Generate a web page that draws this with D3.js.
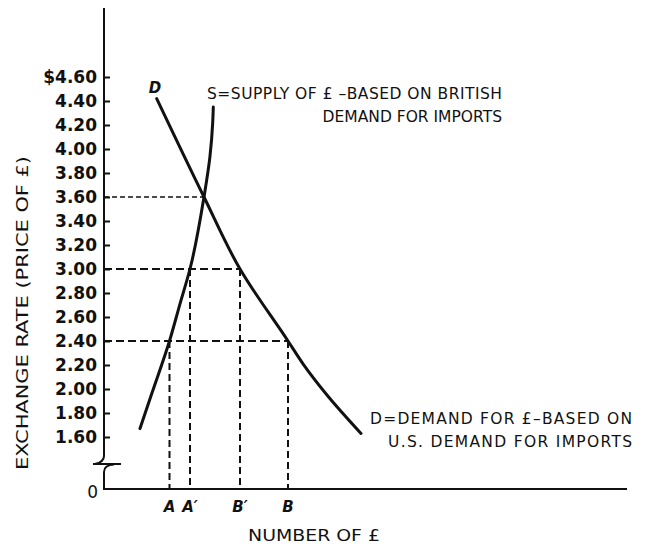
<!DOCTYPE html>
<html>
<head>
<meta charset="utf-8">
<script src="https://cdn.jsdelivr.net/npm/d3@7"></script>
<style>
  html, body { margin: 0; padding: 0; background: #fff; }
  svg { display: block; }
  text { fill: #111; }
</style>
</head>
<body>
<svg id="chart" width="660" height="544"></svg>
<script>
// Exchange rate ticks (dollars per pound), drawn on the upper part of a broken axis
const rateTicks = [4.60, 4.40, 4.20, 4.00, 3.80, 3.60, 3.40, 3.20, 3.00, 2.80, 2.60, 2.40, 2.20, 2.00, 1.80, 1.60];

// Supply of pounds: [number of £, price]
const supplyQty   = [36, 47.7, 65.5, 76, 86, 100, 106, 108.7, 109.3];
const supplyPrice = [1.67, 1.96, 2.40, 2.71, 3.00, 3.60, 3.94, 4.22, 4.35];

// Demand for pounds: [number of £, price]
const demandQty   = [52.7, 100, 136, 184, 199, 224, 257];
const demandPrice = [4.42, 3.60, 3.00, 2.40, 2.21, 1.94, 1.63];

// Marked quantities on the horizontal axis and the rates they belong to
const qtyLabels = ["A", "A\u2032", "B\u2032", "B"];
const qtyValues = [65.5, 86, 136, 184];
const qtyRates  = [2.40, 3.00, 3.00, 2.40];

// Horizontal guide lines: rate and how far they run
const guideRates = [3.60, 3.00, 2.40];
const guideQty   = [100, 136, 184];

const svg = d3.select("#chart");
const font = "'DejaVu Sans', Verdana, sans-serif";

const x = d3.scaleLinear().domain([0, 523]).range([104, 627]);
const y = d3.scaleLinear().domain([1.60, 4.60]).range([437, 77]);
const yZero = 489;

// Dashed guides
const guides = svg.append("g").attr("fill", "none").attr("stroke", "#111");
guideRates.forEach((r, i) => {
  guides.append("line")
    .attr("x1", x(0)).attr("x2", x(guideQty[i]))
    .attr("y1", y(r)).attr("y2", y(r))
    .attr("stroke-width", i === 0 ? 1.6 : 2)
    .attr("stroke-dasharray", i === 0 ? "5,3" : "8,4");
});
qtyValues.forEach((q, i) => {
  guides.append("line")
    .attr("x1", x(q)).attr("x2", x(q))
    .attr("y1", y(qtyRates[i])).attr("y2", yZero)
    .attr("stroke-width", 2)
    .attr("stroke-dasharray", "7,4");
});

// Curves: price on the vertical axis, so interpolate monotonically in y
const line = d3.line()
  .x(d => x(d[0]))
  .y(d => y(d[1]))
  .curve(d3.curveMonotoneY);

const byPixelY = (a, b) => y(a[1]) - y(b[1]);

svg.append("path")
  .datum(supplyQty.map((q, i) => [q, supplyPrice[i]]).sort(byPixelY))
  .attr("d", line)
  .attr("fill", "none").attr("stroke", "#111").attr("stroke-width", 3)
  .attr("stroke-linecap", "round");

svg.append("path")
  .datum(demandQty.map((q, i) => [q, demandPrice[i]]).sort(byPixelY))
  .attr("d", line)
  .attr("fill", "none").attr("stroke", "#111").attr("stroke-width", 3)
  .attr("stroke-linecap", "round");

// Vertical axis with its break
const axisG = svg.append("g")
  .attr("transform", `translate(${x(0)},0)`);
const yAxis = d3.axisRight(y)
  .tickValues(rateTicks)
  .tickSize(6)
  .tickFormat("");
axisG.call(yAxis);
axisG.select(".domain").remove();
axisG.selectAll(".tick line").attr("stroke", "#111").attr("stroke-width", 2);

const axisPaths = svg.append("g").attr("fill", "none").attr("stroke", "#111").attr("stroke-width", 2);
axisPaths.append("path").attr("d", `M${x(0)},8 L${x(0)},456 Q${x(0)},462 95,464`);
axisPaths.append("path").attr("d", `M93,464 L121,464`);
axisPaths.append("path").attr("d", `M114,464.5 Q${x(0)},465 ${x(0)},472 L${x(0)},${yZero} L627,${yZero}`);

// Tick labels
svg.append("g").selectAll("text")
  .data(rateTicks)
  .join("text")
  .attr("x", 97)
  .attr("y", d => y(d))
  .attr("dy", "0.36em")
  .attr("text-anchor", "end")
  .attr("font-family", font)
  .attr("font-weight", "bold")
  .attr("font-size", 17)
  .text((d, i) => (i === 0 ? "$" : "") + d.toFixed(2));

svg.append("text")
  .attr("x", 98).attr("y", yZero + 3).attr("dy", "0.36em")
  .attr("text-anchor", "end")
  .attr("font-family", font).attr("font-size", 17)
  .text("0");

// Quantity letters
svg.append("g").selectAll("text")
  .data(qtyValues)
  .join("text")
  .attr("x", d => x(d))
  .attr("y", 507)
  .attr("dy", "0.36em")
  .attr("text-anchor", "middle")
  .attr("font-family", font)
  .attr("font-weight", "bold")
  .attr("font-style", "italic")
  .attr("font-size", 15)
  .text((d, i) => qtyLabels[i]);

// Axis titles
svg.append("text")
  .attr("x", 314).attr("y", 535).attr("dy", "0.36em")
  .attr("text-anchor", "middle")
  .attr("font-family", font).attr("font-size", 16)
  .attr("textLength", 132).attr("lengthAdjust", "spacingAndGlyphs")
  .text("NUMBER OF \u00A3");

svg.append("text")
  .attr("transform", "translate(22,313) rotate(-90)")
  .attr("dy", "0.36em")
  .attr("text-anchor", "middle")
  .attr("font-family", font).attr("font-size", 16)
  .attr("textLength", 314).attr("lengthAdjust", "spacingAndGlyphs")
  .text("EXCHANGE RATE (PRICE OF \u00A3)");

// Curve labels
svg.append("text")
  .attr("x", 155).attr("y", 88).attr("dy", "0.36em")
  .attr("text-anchor", "middle")
  .attr("font-family", font).attr("font-weight", "bold").attr("font-style", "italic")
  .attr("font-size", 15)
  .text("D");

const supplyLabel = svg.append("text")
  .attr("font-family", font).attr("font-size", 15.5)
  .attr("text-anchor", "end");
supplyLabel.append("tspan").attr("x", 502).attr("y", 99)
  .attr("textLength", 295).attr("lengthAdjust", "spacing")
  .text("S=SUPPLY OF \u00A3 \u2013BASED ON BRITISH");
supplyLabel.append("tspan").attr("x", 502).attr("y", 122)
  .text("DEMAND FOR IMPORTS");

const demandLabel = svg.append("text")
  .attr("font-family", font).attr("font-size", 15.5)
  .attr("text-anchor", "end");
demandLabel.append("tspan").attr("x", 632).attr("y", 424)
  .attr("textLength", 262).attr("lengthAdjust", "spacing")
  .text("D=DEMAND FOR \u00A3\u2013BASED ON");
demandLabel.append("tspan").attr("x", 632).attr("y", 447)
  .attr("textLength", 244).attr("lengthAdjust", "spacing")
  .text("U.S. DEMAND FOR IMPORTS");
</script>
</body>
</html>
